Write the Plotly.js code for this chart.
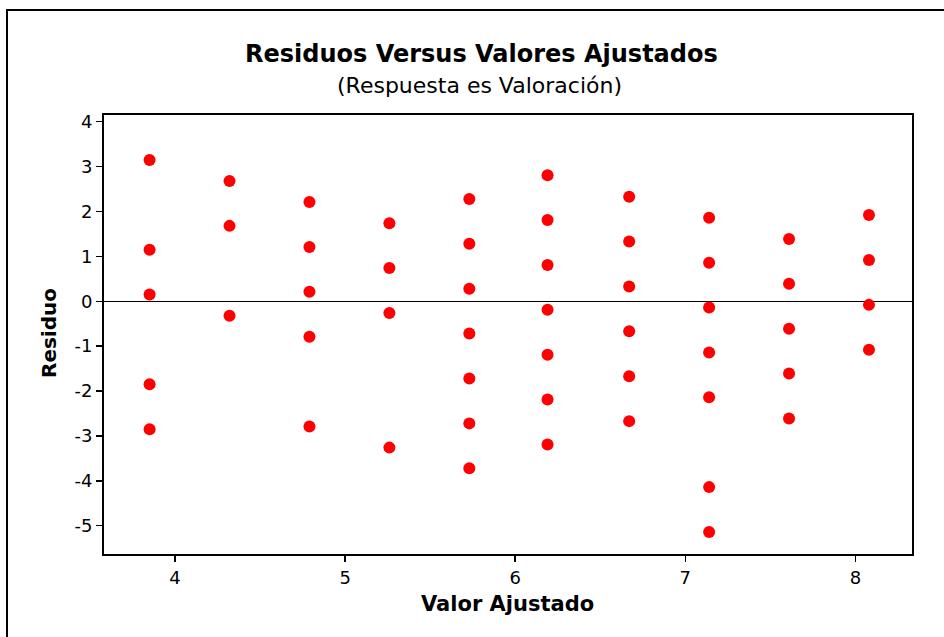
<!DOCTYPE html>
<html>
<head>
<meta charset="utf-8">
<script src="https://cdn.plot.ly/plotly-3.0.1.min.js"></script>
<style>html,body{margin:0;padding:0;background:#fff;}#chart{width:944px;height:637px;}</style>
</head>
<body>
<div id="chart"></div>
<script>
// Fitted values (Valor Ajustado) and residuals (Residuo), one entry per point
const fittedValues = [
  3.85, 3.85, 3.85, 3.85, 3.85,
  4.32, 4.32, 4.32,
  4.79, 4.79, 4.79, 4.79, 4.79,
  5.26, 5.26, 5.26, 5.26,
  5.73, 5.73, 5.73, 5.73, 5.73, 5.73, 5.73,
  6.19, 6.19, 6.19, 6.19, 6.19, 6.19, 6.19,
  6.67, 6.67, 6.67, 6.67, 6.67, 6.67,
  7.14, 7.14, 7.14, 7.14, 7.14, 7.14, 7.14,
  7.61, 7.61, 7.61, 7.61, 7.61,
  8.08, 8.08, 8.08, 8.08
];
const residuals = [
  3.15, 1.15, 0.15, -1.85, -2.85,
  2.68, 1.68, -0.32,
  2.21, 1.21, 0.21, -0.79, -2.79,
  1.74, 0.74, -0.26, -3.26,
  2.28, 1.28, 0.28, -0.72, -1.72, -2.72, -3.72,
  2.81, 1.81, 0.81, -0.19, -1.19, -2.19, -3.19,
  2.33, 1.33, 0.33, -0.67, -1.67, -2.67,
  1.86, 0.86, -0.14, -1.14, -2.14, -4.14, -5.14,
  1.39, 0.39, -0.61, -1.61, -2.61,
  1.92, 0.92, -0.08, -1.08
];
const xTicks = [4, 5, 6, 7, 8];
const yTicks = [-5, -4, -3, -2, -1, 0, 1, 2, 3, 4];
const yTickLabels = ['-5', '-4', '-3', '-2', '-1', '0', '1', '2', '3', '4'];

const W = 944, H = 637;
const M = {l: 104, r: 32, t: 115, b: 83};
const pw = W - M.l - M.r, ph = H - M.t - M.b;
const px = v => (v - M.l) / pw;
const py = v => (H - M.b - v) / ph;

const fontFam = '"DejaVu Sans", Verdana, sans-serif';

const trace = {
  type: 'scatter', mode: 'markers',
  x: fittedValues, y: residuals,
  marker: {color: '#ff0000', size: 12, line: {width: 0}},
  hoverinfo: 'x+y'
};

const layout = {
  width: W, height: H,
  margin: M,
  paper_bgcolor: '#ffffff', plot_bgcolor: '#ffffff',
  showlegend: false,
  font: {family: fontFam, size: 18, color: '#000'},
  xaxis: {
    range: [3.582, 8.333], tickvals: xTicks, ticktext: xTicks.map(String),
    ticks: 'outside', ticklen: 6, tickwidth: 1.5, tickcolor: '#000',
    showline: true, linecolor: '#000', linewidth: 2, mirror: true,
    showgrid: false, zeroline: false,
    tickfont: {family: fontFam, size: 18, color: '#000'}
  },
  yaxis: {
    range: [-5.63, 4.15], tickvals: yTicks, ticktext: yTickLabels,
    ticks: 'outside', ticklen: 6, tickwidth: 1.5, tickcolor: '#000',
    showline: true, linecolor: '#000', linewidth: 2, mirror: true,
    showgrid: false, zeroline: true, zerolinecolor: '#000', zerolinewidth: 1,
    tickfont: {family: fontFam, size: 18, color: '#000'}
  },
  annotations: [
    {text: '<b>Residuos Versus Valores Ajustados</b>', xref: 'paper', yref: 'paper',
     x: px(481), y: py(54), xanchor: 'center', yanchor: 'middle', showarrow: false,
     font: {family: fontFam, size: 24, color: '#000'}},
    {text: '(Respuesta es Valoración)', xref: 'paper', yref: 'paper',
     x: px(479), y: py(86), xanchor: 'center', yanchor: 'middle', showarrow: false,
     font: {family: fontFam, size: 22, color: '#000'}},
    {text: '<b>Valor Ajustado</b>', xref: 'paper', yref: 'paper',
     x: px(507), y: py(604), xanchor: 'center', yanchor: 'middle', showarrow: false,
     font: {family: fontFam, size: 21, color: '#000'}},
    {text: '<b>Residuo</b>', xref: 'paper', yref: 'paper', textangle: -90,
     x: px(49), y: py(333), xanchor: 'center', yanchor: 'middle', showarrow: false,
     font: {family: fontFam, size: 20, color: '#000'}}
  ],
  shapes: [
    {type: 'rect', xref: 'paper', yref: 'paper',
     x0: px(7), x1: px(960), y0: py(660), y1: py(10),
     line: {color: '#000', width: 2}, fillcolor: 'rgba(0,0,0,0)', layer: 'below'}
  ]
};

Plotly.newPlot('chart', [trace], layout, {displayModeBar: false, staticPlot: true});
</script>
</body>
</html>
